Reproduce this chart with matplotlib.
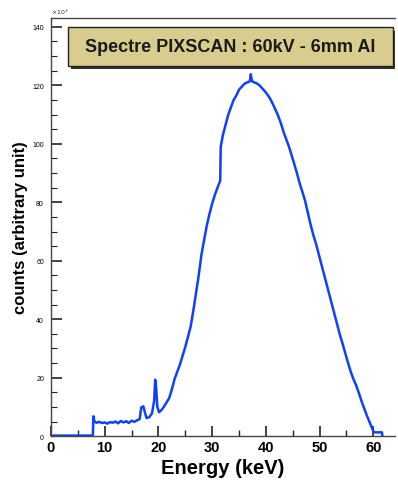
import matplotlib.pyplot as plt
from matplotlib.patches import Rectangle
from matplotlib.ticker import MultipleLocator

# spectrum (counts in units of 10^3)
energy = [0.5, 7.8, 7.9, 8.1, 8.5, 9.0, 9.5, 10.0, 10.5, 11.0, 11.5, 12.0,
          12.5, 13.0, 13.5, 14.0, 14.5, 15.0, 15.5, 16.0, 16.5, 16.8, 17.2,
          17.5, 17.8, 18.3, 18.8, 19.2, 19.4, 19.6, 19.8, 20.1, 20.5, 21.0,
          21.5, 22.0, 22.5, 23.0, 23.5, 24.0, 24.5, 25.0, 25.5, 26.0, 26.5,
          27.0, 27.5, 28.0, 28.5, 29.0, 29.5, 30.0, 30.5, 31.0, 31.5, 31.6,
          32.0, 32.5, 33.0, 33.5, 34.0, 34.5, 35.0, 35.5, 36.0, 36.5, 37.0,
          37.2, 37.4, 37.8, 38.3, 38.8, 39.3, 39.8, 40.3, 40.8, 41.3, 41.8,
          42.3, 42.8, 43.3, 43.8, 44.3, 44.8, 45.3, 45.8, 46.3, 46.8, 47.3,
          47.8, 48.3, 48.8, 49.3, 49.8, 50.3, 50.8, 51.3, 51.8, 52.3, 52.8,
          53.3, 53.8, 54.3, 54.8, 55.3, 55.8, 56.3, 56.8, 57.3, 57.8, 58.3,
          58.8, 59.3, 59.8, 60.1, 61.6, 61.7]
counts = [0.2, 0.2, 6.8, 5.0, 4.6, 4.9, 4.5, 4.7, 4.3, 4.8, 4.6, 5.0,
          4.4, 5.2, 4.7, 5.1, 4.5, 5.3, 4.9, 5.4, 5.8, 9.8, 10.2,
          8.0, 6.2, 6.5, 7.8, 12.0, 19.3, 16.0, 10.0, 8.2, 8.8, 10.0,
          11.5, 13.0, 16.0, 19.5, 22.0, 24.5, 27.5, 30.5, 34.0, 37.5, 43.0,
          49.0, 55.0, 62.0, 67.0, 72.0, 76.0, 79.5, 82.5, 85.0, 87.4, 99.0,
          103.0, 106.5, 110.0, 112.5, 115.0, 116.5, 118.5, 119.5, 120.5, 121.0, 121.3,
          123.8, 121.5, 121.0, 120.7, 120.0, 119.0, 118.0, 116.8, 115.4, 113.6, 111.6,
          109.5, 107.0, 104.0, 101.5, 99.0, 96.0, 93.0, 89.8, 86.4, 83.5, 80.5,
          76.5, 72.5, 69.0, 66.0, 62.5, 59.0, 55.5, 52.0, 48.5, 45.0, 41.5,
          38.0, 34.5, 31.5, 28.2, 25.0, 22.0, 19.5, 17.4, 14.8, 12.0, 9.5,
          7.0, 4.8, 2.6, 1.3, 1.3, 0.0]

title = "Spectre PIXSCAN : 60kV - 6mm Al"

plt.rcParams['font.family'] = ['Liberation Sans', 'DejaVu Sans']

fig = plt.figure(figsize=(3.98, 4.89), dpi=100)
ax = fig.add_axes([0.128, 0.106, 0.864, 0.855])

ax.plot(energy, counts, color='#1040ff', lw=1.8)

ax.set_xlim(0, 64)
ax.set_ylim(0, 143)

ax.xaxis.set_major_locator(MultipleLocator(10))
ax.xaxis.set_minor_locator(MultipleLocator(5))
ax.yaxis.set_major_locator(MultipleLocator(20))
ax.yaxis.set_minor_locator(MultipleLocator(5))
ax.tick_params(axis='both', which='both', direction='in', color='#222222')
ax.tick_params(axis='x', which='major', length=7, width=1.2, labelsize=10.5, pad=3)
ax.tick_params(axis='x', which='minor', length=4, width=1.0)
ax.tick_params(axis='y', which='major', length=8, width=1.2, labelsize=5, pad=5)
ax.tick_params(axis='y', which='minor', length=4, width=0.8)
for lab in ax.get_xticklabels():
    lab.set_fontweight('bold')

ax.spines['right'].set_visible(False)
for s in ['left', 'top', 'bottom']:
    ax.spines[s].set_color('#444444')
    ax.spines[s].set_linewidth(1.0)

ax.text(0.0, 1.005, r'$\times10^3$', transform=ax.transAxes, fontsize=4.5,
        va='bottom', ha='left', color='#333333')

ax.set_xlabel('Energy (keV)', fontsize=14.5, fontweight='bold', labelpad=3)
ax.set_ylabel('counts (arbitrary unit)', fontsize=12, fontweight='bold')
ax.yaxis.set_label_coords(-0.066, 0.5)

# title box with shadow
x0, y0, w, h = 0.049, 0.885, 0.945, 0.093
ax.add_patch(Rectangle((x0 + 0.009, y0 - 0.008), w, h, transform=ax.transAxes,
                       facecolor='#333333', edgecolor='none', zorder=4))
ax.add_patch(Rectangle((x0, y0), w, h, transform=ax.transAxes,
                       facecolor='#d8cc8e', edgecolor='#222222', lw=1.0,
                       zorder=5))
ax.text(x0 + w / 2, y0 + h / 2, title, transform=ax.transAxes, ha='center',
        va='center', fontsize=13, fontweight='bold', color='#1a1a1a',
        zorder=6)

fig.savefig('out.png', dpi=100)
